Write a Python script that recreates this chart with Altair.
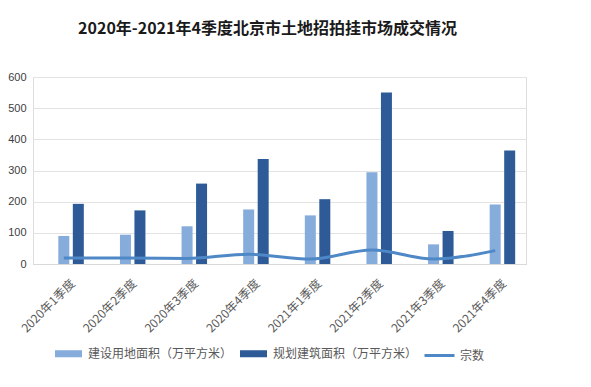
import altair as alt
import pandas as pd

quarters = ["2020年1季度", "2020年2季度", "2020年3季度", "2020年4季度",
            "2021年1季度", "2021年2季度", "2021年3季度", "2021年4季度"]
land_area = [90, 94, 121, 175, 156, 294, 63, 191]
build_area = [193, 172, 258, 337, 208, 550, 106, 364]
deals = [19, 19, 18, 31, 16, 45, 16, 43]

s_land = "建设用地面积（万平方米）"
s_build = "规划建筑面积（万平方米）"
s_deals = "宗数"
bar_colors = ["#86acdb", "#2e5b97"]
line_color = "#4f88c6"

df_land = pd.DataFrame({"q": quarters, "v": land_area, "s": s_land})
df_build = pd.DataFrame({"q": quarters, "v": build_area, "s": s_build})
df_deals = pd.DataFrame({"q": quarters, "v": deals, "k": s_deals})

FONT = "Noto Sans CJK SC"

x = alt.X("q:N", sort=quarters, title=None,
          scale=alt.Scale(paddingInner=0, paddingOuter=0),
          axis=alt.Axis(labelAngle=-45, labelAlign="right", labelBaseline="middle",
                        labelFontSize=12, labelColor="#595959", labelFont=FONT,
                        ticks=False, domainColor="#d9d9d9", labelPadding=17,
                        labelOffset=9, grid=False))
y = alt.Y("v:Q", title=None,
          scale=alt.Scale(domain=[0, 600], nice=False),
          axis=alt.Axis(values=[0, 100, 200, 300, 400, 500, 600], labelFontSize=11,
                        labelColor="#404040", labelFont="Liberation Sans", labelPadding=7,
                        domain=False, ticks=False, gridColor="#e3e3e3"))

fill = alt.Fill("s:N", scale=alt.Scale(domain=[s_land, s_build], range=bar_colors),
                legend=alt.Legend(orient="none", legendX=22, legendY=263,
                                  direction="horizontal", title=None,
                                  labelFont=FONT, labelFontSize=12, labelColor="#595959",
                                  symbolType="M-1,-0.26H1V0.26H-1Z", symbolSize=729,
                                  symbolStrokeWidth=0, columnPadding=7, labelOffset=6))
stroke = alt.Stroke("k:N", scale=alt.Scale(domain=[s_deals], range=[line_color]),
                    legend=alt.Legend(orient="none", legendX=390, legendY=262,
                                      direction="horizontal", title=None,
                                      labelFont=FONT, labelFontSize=12, labelColor="#595959",
                                      symbolType="stroke", symbolSize=900,
                                      symbolStrokeWidth=3, labelOffset=4))

bar_land = alt.Chart(df_land).mark_bar(width=11).encode(x=x, y=y, fill=fill)
bar_build = alt.Chart(df_build).mark_bar(width=11, xOffset=14.5).encode(x=x, y=y, fill=fill)
line = alt.Chart(df_deals).mark_line(strokeWidth=3, interpolate="monotone").encode(
    x=x, y=y, stroke=stroke)

chart = alt.layer(bar_land, bar_build, line).properties(
    width=493, height=187,
    title=alt.TitleParams("2020年-2021年4季度北京市土地招拍挂市场成交情况",
                          font=FONT, fontSize=16, fontWeight="bold", color="#1a1a1a",
                          anchor="middle", dx=-12, offset=34),
    autosize=alt.AutoSizeParams(type="none"),
    padding={"left": 25, "top": 69, "right": 57, "bottom": 115},
).configure_view(stroke=None).configure(background="white")

chart.save("out.html", embed_options={"renderer": "svg", "actions": False})
